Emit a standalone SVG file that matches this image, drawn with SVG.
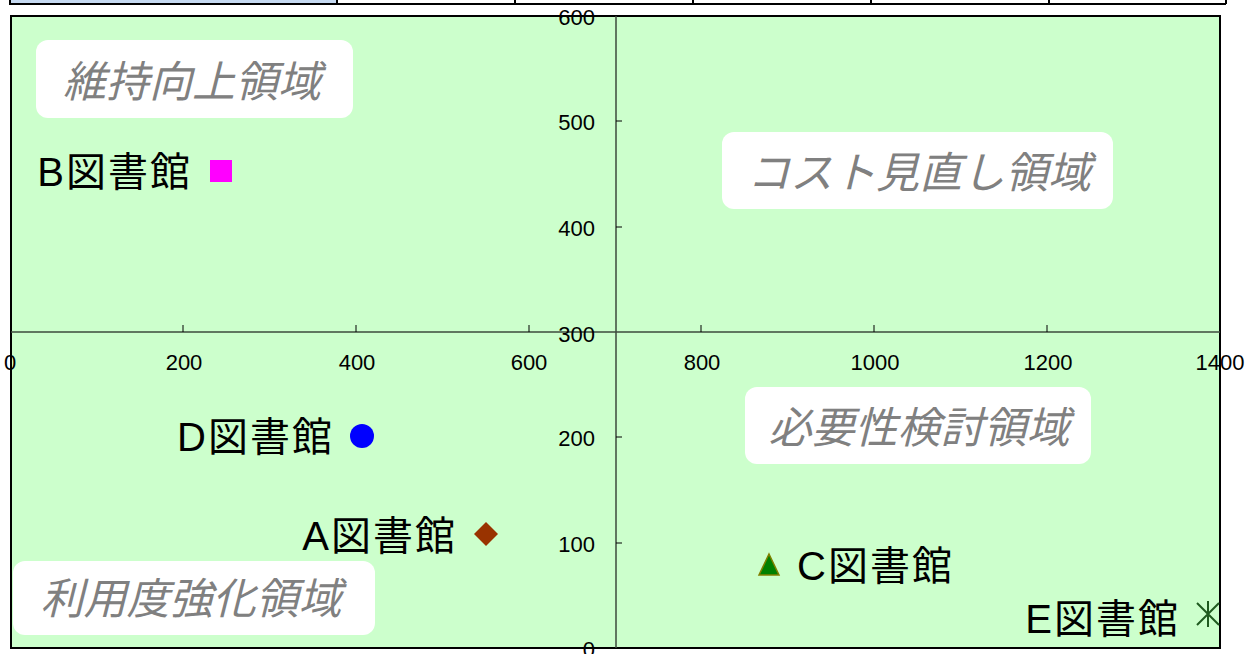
<svg xmlns="http://www.w3.org/2000/svg" width="1248" height="654" viewBox="0 0 1248 654">
<defs>
<style>
.tick{font-family:"Liberation Sans",Arial,sans-serif;font-size:22px;fill:#000}
.lbl{font-family:"Liberation Sans","Noto Sans CJK JP",sans-serif;font-size:40px;letter-spacing:2px;fill:#000}
.quad{font-family:"Noto Sans CJK JP",sans-serif;font-size:43px;font-style:italic;fill:#808080}
.box{fill:#fff}
.ax{stroke:#3d4a3d;stroke-width:1.5;fill:none}
.tk{stroke:#000;stroke-width:1;fill:none}
</style>
<clipPath id="plotclip"><rect x="11" y="16" width="1209" height="632"/></clipPath>
</defs>
<rect width="1248" height="654" fill="#fff"/>
<g id="topstrip">
<rect x="10" y="-2" width="327" height="6" fill="#c5d9f1" stroke="#000" stroke-width="2"/>
<path d="M337 4H1226M515 0V4M693 0V4M871 0V4M1049 0V4M1226 0V4" stroke="#000" stroke-width="2" fill="none"/>
</g>
<g id="plot">
<rect x="11" y="16" width="1209" height="632" fill="#ccffcc" stroke="#000" stroke-width="2"/>
</g>
<g id="axes">
<line class="ax" x1="11" y1="332" x2="1220" y2="332"/>
<line class="ax" x1="616" y1="16" x2="616" y2="648"/>
<path class="tk" d="M183 325V332M356 325V332M529 325V332M701 325V332M874 325V332M1047 325V332"/>
<path class="tk" d="M616 121H622M616 227H622M616 437H622M616 543H622"/>
<g class="tick" text-anchor="middle">
<text x="10" y="370">0</text>
<text x="184" y="370">200</text>
<text x="357" y="370">400</text>
<text x="529" y="370">600</text>
<text x="702" y="370">800</text>
<text x="875" y="370">1000</text>
<text x="1048" y="370">1200</text>
<text x="1220" y="370">1400</text>
</g>
<g class="tick" text-anchor="end">
<text x="595" y="25">600</text>
<text x="595" y="130">500</text>
<text x="595" y="236">400</text>
<text x="595" y="342">300</text>
<text x="595" y="446">200</text>
<text x="595" y="552">100</text>
<text x="595" y="657">0</text>
</g>
</g>
<g id="q-iji">
<rect class="box" x="36" y="40" width="317" height="78" rx="12"/>
<text class="quad" x="192" y="97" text-anchor="middle">維持向上領域</text>
</g>
<g id="q-cost">
<rect class="box" x="722" y="132" width="391" height="77" rx="12"/>
<text class="quad" x="919" y="188" text-anchor="middle">コスト見直し領域</text>
</g>
<g id="q-hitsuyo">
<rect class="box" x="745" y="387" width="346" height="77" rx="12"/>
<text class="quad" x="919" y="443" text-anchor="middle">必要性検討領域</text>
</g>
<g id="q-riyo">
<rect class="box" x="13" y="561" width="362" height="74" rx="12"/>
<text class="quad" x="191" y="614" text-anchor="middle">利用度強化領域</text>
</g>
<g id="lib-b">
<text class="lbl" x="192" y="186" text-anchor="end">B図書館</text>
<rect x="210" y="160" width="22" height="22" fill="#ff00ff"/>
</g>
<g id="lib-d">
<text class="lbl" x="334" y="451" text-anchor="end">D図書館</text>
<circle cx="362" cy="436" r="12" fill="#0000ff"/>
</g>
<g id="lib-a">
<text class="lbl" x="457" y="550" text-anchor="end">A図書館</text>
<polygon points="486,522 498,534 486,546 474,534" fill="#993300"/>
</g>
<g id="lib-c">
<polygon points="769,554 779,575 759,575" fill="#008000" stroke="#808000" stroke-width="1.5"/>
<text class="lbl" x="797" y="580">C図書館</text>
</g>
<g id="lib-e">
<text class="lbl" x="1180" y="633" text-anchor="end">E図書館</text>
<path d="M1197 603L1219 625M1219 603L1197 625M1208 601V627" stroke="#1f5a1f" stroke-width="2" fill="none" clip-path="url(#plotclip)"/>
</g>
</svg>
